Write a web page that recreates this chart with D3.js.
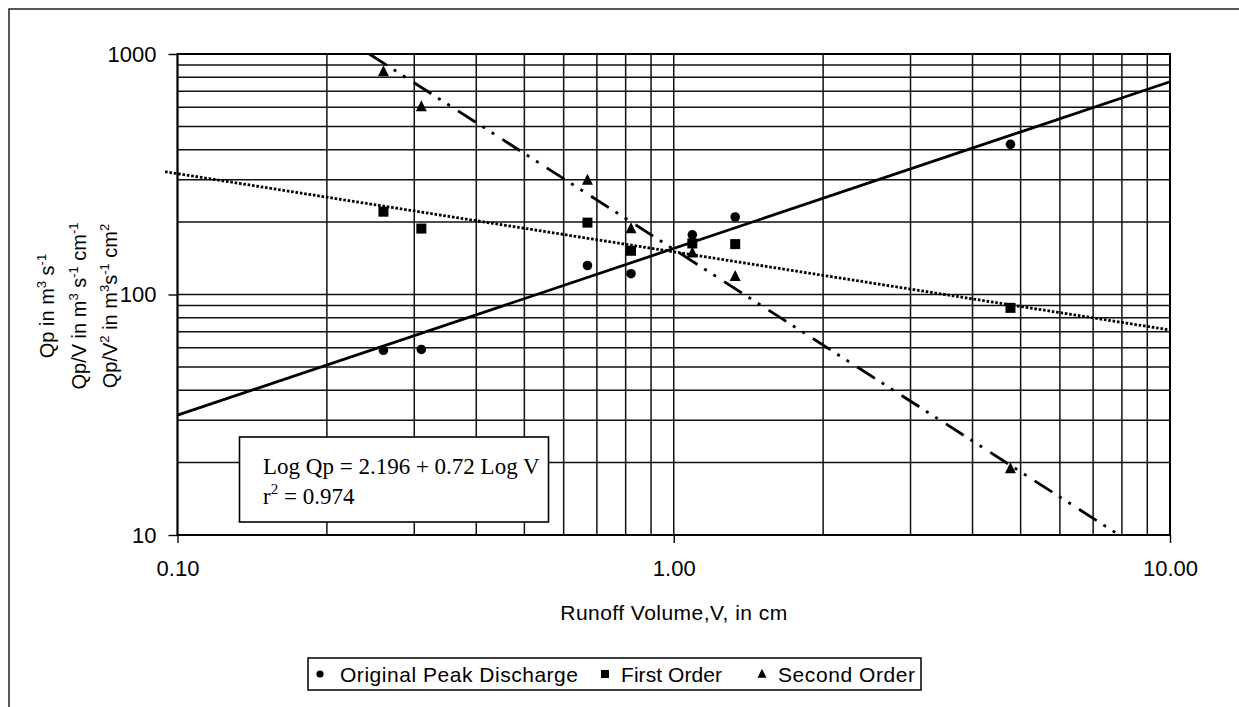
<!DOCTYPE html>
<html>
<head>
<meta charset="utf-8">
<script src="https://cdn.jsdelivr.net/npm/d3@7"></script>
<style>
  body { margin: 0; background: #fff; }
  .canvas svg { display: block; }
</style>
</head>
<body>
<div class="canvas"></div>
<script>
// ---- data ----
const volume = [0.26, 0.31, 0.67, 0.82, 1.09, 1.33, 4.77];
const peakDischarge = [58.6, 59.1, 132, 122, 177, 210, 421];
const firstOrder = [221, 188, 199, 152, 163, 162, 88];
const secondOrder = [844, 604, 299, 188, 149, 119, 18.9];

// fitted lines, end points as drawn
const trendPeak = [[0.1, 31.5], [10, 767]];
const trendFirst = [[0.0944, 324], [10, 71.2]];
const trendSecond = [[0.2435, 1000], [7.78, 10.2]];

const xTicks = [0.1, 1, 10];
const yTicks = [10, 100, 1000];
const legendNames = ['Original Peak Discharge', 'First Order', 'Second Order'];

// ---- canvas ----
const width = 1239, height = 707;
const margin = { top: 54, right: 69, bottom: 172, left: 177.5 };
const graphWidth = width - margin.left - margin.right;
const graphHeight = height - margin.top - margin.bottom;

const svg = d3.select('.canvas')
  .append('svg')
  .attr('width', width)
  .attr('height', height)
  .style('font-family', '"Liberation Sans", Arial, sans-serif');

svg.append('rect').attr('width', width).attr('height', height).attr('fill', '#fff');

// outer frame (only left and top edges are visible in the scan)
svg.append('path')
  .attr('d', `M9,${height} L9,9 L${width},9`)
  .attr('fill', 'none')
  .attr('stroke', '#222')
  .attr('stroke-width', 1.5);

const graph = svg.append('g')
  .attr('transform', `translate(${margin.left}, ${margin.top})`);

const x = d3.scaleLog().domain([0.1, 10]).range([0, graphWidth]);
const y = d3.scaleLog().domain([10, 1000]).range([graphHeight, 0]);

// grid on every log tick
graph.append('g').attr('class', 'grid-x')
  .selectAll('line')
  .data(x.ticks())
  .join('line')
  .attr('x1', d => x(d)).attr('x2', d => x(d))
  .attr('y1', 0).attr('y2', graphHeight)
  .attr('stroke', '#111').attr('stroke-width', 1.5);

graph.append('g').attr('class', 'grid-y')
  .selectAll('line')
  .data(y.ticks())
  .join('line')
  .attr('x1', 0).attr('x2', graphWidth)
  .attr('y1', d => y(d)).attr('y2', d => y(d))
  .attr('stroke', '#111').attr('stroke-width', 1.5);

graph.append('rect')
  .attr('width', graphWidth).attr('height', graphHeight)
  .attr('fill', 'none').attr('stroke', '#000').attr('stroke-width', 2);

// axes
const xAxis = d3.axisBottom(x).tickValues(xTicks).tickFormat(d3.format('.2f'))
  .tickSize(8).tickPadding(17);
const yAxis = d3.axisLeft(y).tickValues(yTicks).tickFormat(d3.format('d'))
  .tickSize(9).tickPadding(12);

const xAxisGroup = graph.append('g')
  .attr('class', 'x-axis')
  .attr('transform', `translate(0, ${graphHeight})`)
  .call(xAxis);
const yAxisGroup = graph.append('g')
  .attr('class', 'y-axis')
  .call(yAxis);

[xAxisGroup, yAxisGroup].forEach(g => {
  g.select('.domain').remove();
  g.selectAll('line').attr('stroke', '#000').attr('stroke-width', 1.4);
  g.selectAll('text')
    .attr('fill', '#000')
    .style('font-family', '"Liberation Sans", Arial, sans-serif')
    .style('font-size', '22px');
});

// equation box (white fill hides grid behind it)
const eqBox = svg.append('g');
eqBox.append('rect')
  .attr('x', 239.5).attr('y', 437)
  .attr('width', 309).attr('height', 85)
  .attr('fill', '#fff').attr('stroke', '#000').attr('stroke-width', 1.6);
const eqText = eqBox.append('text')
  .attr('font-family', '"Liberation Serif", "Times New Roman", serif')
  .attr('font-size', 23)
  .attr('fill', '#000');
eqText.append('tspan').attr('x', 263).attr('y', 474)
  .text('Log Qp = 2.196 + 0.72 Log V');
eqText.append('tspan').attr('x', 263).attr('y', 504).text('r');
eqText.append('tspan').attr('dy', -10).attr('font-size', 15).text('2');
eqText.append('tspan').attr('dy', 10).text(' = 0.974');

// trend lines
const line = d3.line().x(d => x(d[0])).y(d => y(d[1]));

graph.append('path')
  .attr('d', line(trendPeak))
  .attr('fill', 'none').attr('stroke', '#000').attr('stroke-width', 2.8);

graph.append('path')
  .attr('d', line(trendFirst))
  .attr('fill', 'none').attr('stroke', '#000').attr('stroke-width', 2.8)
  .attr('stroke-dasharray', '2.6,1.8');

graph.append('path')
  .attr('d', line(trendSecond))
  .attr('fill', 'none').attr('stroke', '#000').attr('stroke-width', 2.8)
  .attr('stroke-dasharray', '21,8,3,8,3,9.7');

// markers
const trianglePath = s => `M0,${-s * 0.58} L${s / 2},${s * 0.42} L${-s / 2},${s * 0.42} Z`;

graph.append('g').selectAll('circle')
  .data(volume.map((v, i) => [v, peakDischarge[i]]))
  .join('circle')
  .attr('cx', d => x(d[0])).attr('cy', d => y(d[1]))
  .attr('r', 4.8).attr('fill', '#000');

graph.append('g').selectAll('rect')
  .data(volume.map((v, i) => [v, firstOrder[i]]))
  .join('rect')
  .attr('x', d => x(d[0]) - 5).attr('y', d => y(d[1]) - 5)
  .attr('width', 10).attr('height', 10).attr('fill', '#000');

graph.append('g').selectAll('path')
  .data(volume.map((v, i) => [v, secondOrder[i]]))
  .join('path')
  .attr('transform', d => `translate(${x(d[0])}, ${y(d[1])})`)
  .attr('d', trianglePath(11)).attr('fill', '#000');

// axis titles
svg.append('text')
  .attr('x', margin.left + graphWidth / 2).attr('y', 620)
  .attr('text-anchor', 'middle')
  .attr('font-size', 21)
  .attr('textLength', 227)
  .attr('lengthAdjust', 'spacing')
  .text('Runoff Volume,V, in cm');

const yTitleLines = [
  [['Qp in m'], ['3', 1], [' s'], ['-1', 1]],
  [['Qp/V in m'], ['3', 1], [' s'], ['-1', 1], [' cm'], ['-1', 1]],
  [['Qp/V'], ['2', 1], [' in m'], ['3', 1], ['s'], ['-1', 1], [' cm'], ['2', 1]]
];
const yTitleX = [54, 86, 117];
yTitleLines.forEach((parts, i) => {
  const t = svg.append('text')
    .attr('transform', `translate(${yTitleX[i]}, 306) rotate(-90)`)
    .attr('text-anchor', 'middle')
    .attr('font-size', 20);
  let up = false;
  parts.forEach(([txt, sup]) => {
    const ts = t.append('tspan').text(txt);
    if (sup && !up) { ts.attr('dy', -8).attr('font-size', 13); up = true; }
    else if (!sup && up) { ts.attr('dy', 8); up = false; }
    else if (sup) ts.attr('font-size', 13);
  });
});

// legend
const legend = svg.append('g');
legend.append('rect')
  .attr('x', 308).attr('y', 658)
  .attr('width', 613).attr('height', 32)
  .attr('fill', '#fff').attr('stroke', '#000').attr('stroke-width', 1.5);

const legendMarkX = [320, 605, 762];
const legendTextX = [340, 621, 778];
const legendTextW = [238, 101, 137];
const legendY = 674;

legend.append('circle').attr('cx', legendMarkX[0]).attr('cy', legendY).attr('r', 3.6).attr('fill', '#000');
legend.append('rect').attr('x', legendMarkX[1] - 4).attr('y', legendY - 4)
  .attr('width', 8).attr('height', 8).attr('fill', '#000');
legend.append('path').attr('transform', `translate(${legendMarkX[2]}, ${legendY})`)
  .attr('d', trianglePath(9)).attr('fill', '#000');

legend.selectAll('text.item')
  .data(legendNames)
  .join('text')
  .attr('class', 'item')
  .attr('x', (d, i) => legendTextX[i])
  .attr('y', 682)
  .attr('font-size', 21)
  .attr('textLength', (d, i) => legendTextW[i])
  .attr('lengthAdjust', 'spacing')
  .text(d => d);
</script>
</body>
</html>
